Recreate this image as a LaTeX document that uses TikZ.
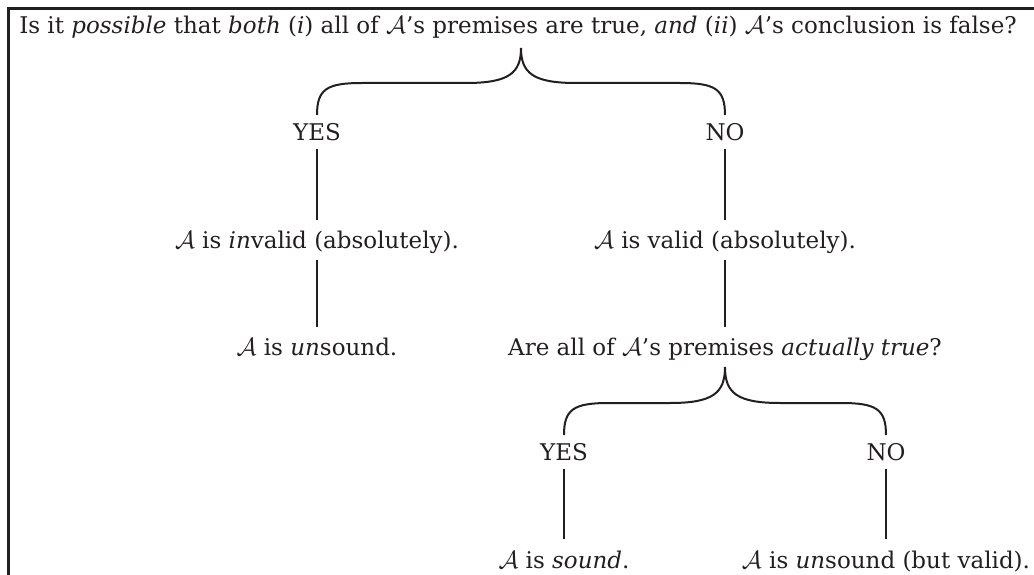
\documentclass[tikz,border=0pt]{standalone}
\usepackage{fontspec}
\setmainfont{DejaVu Serif}
\usetikzlibrary{calc}
\definecolor{ink}{RGB}{35,31,32}
\newcommand\calA{$\mathcal{A}$}
\newcommand\bracedraw[3]{%
  \draw[conn] let \p1=(#1), \p2=(#2), \p3=(#3), \p4=($(#1)+(0,-32)$) in
   (\p1) .. controls (\x1,\y1+26pt) and (\x1+10pt,\y4) .. (\x1+45pt,\y4)
   -- (\x2-55pt,\y4) .. controls (\x2-12pt,\y4) and (\x2,\y4+10pt) .. (\p2)
   .. controls (\x2,\y4+10pt) and (\x2+12pt,\y4) .. (\x2+55pt,\y4)
   -- (\x3-45pt,\y4) .. controls (\x3-10pt,\y4) and (\x3,\y1+26pt) .. (\p3);}
\tikzset{
  txt/.style={anchor=base, inner sep=0pt, text=ink, font=\fontsize{23}{27}\selectfont},
  conn/.style={draw=ink, line width=2pt},
  down/.style={conn, shorten >=28pt},
  frameline/.style={draw=ink, line width=3pt}
}
\begin{document}
\begin{tikzpicture}[x=1pt, y=-1pt]
\useasboundingbox (0,0) rectangle (1034,575);
\draw[frameline] (8.7,580) -- (8.7,8.5) -- (1040,8.5);

\node[txt] (q) at (518,34) {Is it \emph{possible} that \emph{both} (\emph{i}) all of \calA’s premises are true, \emph{and} (\emph{ii}) \calA’s conclusion is false?};
\node[txt] (yes1) at (317,141) {YES};
\node[txt] (no1) at (725,141) {NO};
\node[txt] (inv) at (317,248) {\calA{} is \emph{in}valid (absolutely).};
\node[txt] (val) at (725,248) {\calA{} is valid (absolutely).};
\node[txt] (uns) at (317,355) {\calA{} is \emph{un}sound.};
\node[txt] (q2) at (725,355) {Are all of \calA’s premises \emph{actually true}?};
\node[txt] (yes2) at (564,460) {YES};
\node[txt] (no2) at (886,460) {NO};
\node[txt] (snd) at (564,568) {\calA{} is \emph{sound}.};
\node[txt] (uns2) at (886,568) {\calA{} is \emph{un}sound (but valid).};

\coordinate (b1l) at ($(yes1.base)+(0,-26)$);
\coordinate (b1r) at ($(no1.base)+(0,-26)$);
\coordinate (b1t) at ($(yes1.base)!.5!(no1.base)+(0,-93)$);
\bracedraw{b1l}{b1t}{b1r}

\coordinate (b2l) at ($(yes2.base)+(0,-25)$);
\coordinate (b2r) at ($(no2.base)+(0,-25)$);
\coordinate (b2t) at ($(q2.base)+(0,12)$);
\bracedraw{b2l}{b2t}{b2r}

\draw[down, shorten <=8pt] (yes1.base) -- (inv.base);
\draw[down, shorten <=12pt] (inv.base) -- (uns.base);
\draw[down, shorten <=8pt] (no1.base) -- (val.base);
\draw[down, shorten <=12pt] (val.base) -- (q2.base);
\draw[down, shorten <=9pt, shorten >=29pt] (yes2.base) -- (snd.base);
\draw[down, shorten <=9pt, shorten >=29pt] (no2.base) -- (uns2.base);
\end{tikzpicture}
\end{document}
